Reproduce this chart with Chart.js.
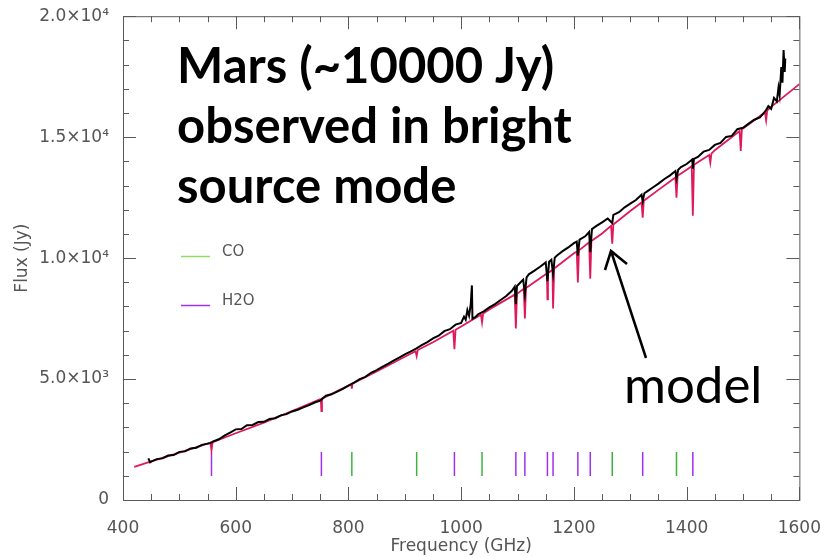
<!DOCTYPE html>
<html>
<head>
<meta charset="utf-8">
<script src="https://cdn.jsdelivr.net/npm/chart.js@4"></script>
<style>
  body { margin: 0; background: #fff; }
</style>
</head>
<body>
<canvas id="myChart" width="831" height="557"></canvas>
<script>
// 軸の目盛り
const xTicks = [400, 600, 800, 1000, 1200, 1400, 1600];
const yTicks = [0, 5000, 10000, 15000, 20000];
const yTickLabels = ["0", "5.0×10³", "1.0×10⁴", "1.5×10⁴", "2.0×10⁴"];

// 観測スペクトル (黒)
const obsFreq = [445, 448, 450, 460, 470, 480, 490, 500, 510, 520, 530, 540, 550, 555, 560, 570, 580, 590, 600,
  610, 620, 630, 640, 650, 660, 670, 680, 690, 700, 710, 720, 730, 740, 750, 760, 770, 780, 790, 800,
  810, 820, 830, 840, 850, 860, 870, 880, 890, 900, 910, 920, 930, 940, 950, 960, 970, 980, 990, 1000,
  1005, 1008, 1011, 1014, 1017, 1019, 1020, 1025, 1030, 1040, 1050, 1060, 1070, 1080, 1090, 1095, 1097, 1099,
  1105, 1110, 1113, 1116, 1120, 1130, 1140, 1150, 1153, 1156, 1160, 1163, 1166, 1170, 1180, 1190, 1200,
  1205, 1207, 1210, 1220, 1227, 1229, 1232, 1240, 1250, 1260, 1268, 1270, 1280, 1290, 1300,
  1310, 1320, 1322, 1325, 1330, 1340, 1350, 1360, 1370, 1380, 1382, 1385, 1390, 1400,
  1410, 1411, 1413, 1420, 1430, 1440, 1450, 1460, 1470, 1480, 1490, 1500,
  1510, 1520, 1530, 1540, 1545, 1550, 1555, 1560, 1563, 1565, 1568, 1570, 1572, 1574, 1575];
const obsFlux = [1720, 1560, 1590, 1690, 1720, 1840, 1860, 1990, 2010, 2130, 2160, 2280, 2330, 2350, 2420, 2510, 2660, 2790, 2920,
  2930, 3090, 3100, 3220, 3230, 3350, 3380, 3500, 3550, 3660, 3730, 3830, 3920, 4030, 4110, 4310, 4370, 4480, 4590, 4730,
  4850, 5000, 5090, 5260, 5370, 5500, 5630, 5760, 5890, 6020, 6130, 6260, 6400, 6530, 6680, 6790, 6980, 7060, 7250, 7320,
  7580, 7450, 7850, 7620, 8100, 8870, 7500, 7560, 7680, 7800, 7960, 8100, 8270, 8430, 8650, 8820, 8100, 8850,
  8990, 9110, 8500, 9200, 9330, 9480, 9640, 9820, 9050, 9850, 9930, 9350, 10020, 10110, 10290, 10440, 10620,
  10680, 10100, 10760, 10900, 11080, 10250, 11200, 11330, 11480, 11640, 11450, 11790, 11900, 12100, 12250,
  12400, 12620, 12350, 12680, 12760, 12920, 13080, 13260, 13410, 13600, 13280, 13650, 13760, 13890,
  14080, 13700, 14100, 14180, 14400, 14470, 14680, 14760, 15010, 15050, 15330, 15390,
  15560, 15720, 15820, 16080, 16280, 16170, 16620, 16480, 17050, 16750, 17900, 17250, 18600, 17700, 18250];

// モデル (赤)
const modelFreq = [420, 450, 500, 550, 555, 557, 559, 600, 650, 700, 750, 751, 752, 753, 800, 805, 806, 807,
  850, 900, 919, 921, 923, 950, 986, 988, 990, 1000, 1035, 1037, 1039, 1050, 1095, 1097, 1099,
  1111, 1113, 1115, 1150, 1152, 1153, 1154, 1162, 1163, 1165, 1200, 1205, 1207, 1209, 1227, 1229, 1231,
  1250, 1266, 1268, 1270, 1300, 1320, 1322, 1324, 1350, 1380, 1382, 1384, 1400, 1409, 1411, 1413,
  1440, 1442, 1444, 1450, 1494, 1496, 1498, 1500, 1539, 1541, 1543, 1550, 1600];
const modelFlux = [1370, 1600, 1960, 2330, 2370, 2060, 2390, 2760, 3200, 3680, 4170, 4180, 3680, 4190, 4730, 4790, 4600, 4810,
  5310, 5920, 6150, 5950, 6200, 6520, 7000, 6230, 7040, 7170, 7660, 7340, 7710, 7880, 8490, 7090, 8520,
  8730, 7500, 8760, 9330, 9360, 8290, 9380, 9520, 7920, 9570, 10200, 10260, 8990, 10320, 10650, 9150, 10710,
  11020, 11330, 10600, 11390, 11950, 12300, 11670, 12370, 12820, 13330, 12500, 13400, 13650, 13800, 11750, 13860,
  14260, 13950, 14320, 14460, 15250, 14430, 15320, 15360, 16020, 15700, 16100, 16250, 17190];

// 分子線の位置 (GHz)
const coLines  = [806, 921, 1037, 1268, 1382];
const h2oLines = [557, 752, 988, 1097, 1113, 1153, 1163, 1207, 1229, 1322, 1411];
const markBottom = 990;
const markTop = 1980;

// 色
const colorSet = {
  axis : "#5a5a5a",
  text : "#555555",
  obs  : "#000000",
  model: "#e0185c",
  co   : "#3cb43c",
  coKey: "#8cdc64",
  h2o  : "#a030f0",
};

const fontFamily = "'DejaVu Sans', 'Liberation Sans', sans-serif";

const toPoints = (xs, ys) => xs.map((v, i) => ({ x: v, y: ys[i] }));
const toMarks = (xs) => xs.flatMap(v => [{ x: v, y: markBottom }, { x: v, y: markTop }, { x: v, y: null }]);

// 枠と内向きの目盛り、凡例、注記
const framePlugin = {
  id: "frame",
  afterDatasetsDraw(chart) {
    const { ctx, chartArea: a, scales: { x, y } } = chart;
    ctx.save();
    ctx.strokeStyle = colorSet.axis;
    ctx.lineWidth = 1;
    ctx.strokeRect(a.left + 0.5, a.top + 0.5, a.right - a.left, a.bottom - a.top);
    ctx.beginPath();
    for (let v = 400; v <= 1600; v += 50) {
      const px = Math.round(x.getPixelForValue(v)) + 0.5;
      const len = xTicks.includes(v) ? 13 : 6;
      ctx.moveTo(px, a.bottom); ctx.lineTo(px, a.bottom - len);
      ctx.moveTo(px, a.top);    ctx.lineTo(px, a.top + len);
    }
    for (let v = 0; v <= 20000; v += 1000) {
      const py = Math.round(y.getPixelForValue(v)) + 0.5;
      const len = yTicks.includes(v) ? 13 : 6;
      ctx.moveTo(a.left, py);  ctx.lineTo(a.left + len, py);
      ctx.moveTo(a.right, py); ctx.lineTo(a.right - len, py);
    }
    ctx.stroke();
    ctx.restore();
  },
  afterDraw(chart) {
    const ctx = chart.ctx;
    ctx.save();
    // 凡例
    ctx.lineWidth = 1.5;
    ctx.strokeStyle = colorSet.coKey;
    ctx.beginPath(); ctx.moveTo(181, 256.5); ctx.lineTo(210, 256.5); ctx.stroke();
    ctx.strokeStyle = colorSet.h2o;
    ctx.beginPath(); ctx.moveTo(181, 305.5); ctx.lineTo(210, 305.5); ctx.stroke();
    ctx.fillStyle = colorSet.text;
    ctx.font = "15px " + fontFamily;
    ctx.textBaseline = "middle";
    ctx.fillText("CO", 222, 252);
    ctx.fillText("H2O", 222, 301);

    // 注記
    ctx.fillStyle = "#000";
    ctx.textBaseline = "alphabetic";
    ctx.font = "bold 49px Lato, 'Open Sans', sans-serif";
    ctx.fillText("Mars (~10000 Jy)", 177, 83);
    ctx.fillText("observed in bright", 177, 143);
    ctx.fillText("source mode", 177, 203);
    ctx.font = "51px Lato, 'Open Sans', sans-serif";
    ctx.fillText("model", 624, 403);

    // 矢印
    ctx.strokeStyle = "#000";
    ctx.lineWidth = 2.5;
    ctx.lineJoin = "miter";
    ctx.beginPath();
    ctx.moveTo(646, 358); ctx.lineTo(611, 251);
    ctx.moveTo(605, 270); ctx.lineTo(611, 251); ctx.lineTo(627, 264);
    ctx.stroke();
    ctx.restore();
  }
};

const data = {
  datasets: [{
    label: "observed",
    data: toPoints(obsFreq, obsFlux),
    borderColor: colorSet.obs,
    borderWidth: 2,
  }, {
    label: "model",
    data: toPoints(modelFreq, modelFlux),
    borderColor: colorSet.model,
    borderWidth: 1.8,
  }, {
    label: "CO",
    data: toMarks(coLines),
    borderColor: colorSet.co,
    borderWidth: 1.5,
    spanGaps: false,
  }, {
    label: "H2O",
    data: toMarks(h2oLines),
    borderColor: colorSet.h2o,
    borderWidth: 1.5,
    spanGaps: false,
  }]
};

const tickFont = { family: fontFamily, size: 17 };

const config = {
  type: "line",
  data: data,
  options: {
    responsive: false,
    animation: false,
    layout: { padding: { top: 15, right: 24, left: 0, bottom: 0 } },
    elements: { point: { radius: 0 }, line: { tension: 0 } },
    plugins: { legend: { display: false }, tooltip: { enabled: false } },
    scales: {
      x: {
        type: "linear",
        min: 400, max: 1600,
        afterBuildTicks: s => { s.ticks = xTicks.map(v => ({ value: v })); },
        afterFit: s => { s.height = 57; },
        grid: { display: false },
        border: { display: false },
        ticks: { color: colorSet.text, font: tickFont, padding: 10, maxRotation: 0, callback: v => String(v) },
        title: { display: true, text: "Frequency (GHz)", color: colorSet.text, font: tickFont, padding: { top: 0, bottom: 0 } }
      },
      y: {
        min: 0, max: 20000,
        afterBuildTicks: s => { s.ticks = yTicks.map(v => ({ value: v })); },
        afterFit: s => { s.width = 123; },
        grid: { display: false },
        border: { display: false },
        ticks: {
          color: colorSet.text, font: tickFont, padding: 6,
          callback: v => yTickLabels[yTicks.indexOf(v)]
        },
        title: { display: true, text: "Flux (Jy)", color: colorSet.text, font: tickFont, padding: { top: 12, bottom: 0 } }
      }
    }
  },
  plugins: [framePlugin]
};

const ctx = document.getElementById("myChart");
const myChart = new Chart(ctx, config);
</script>
</body>
</html>
